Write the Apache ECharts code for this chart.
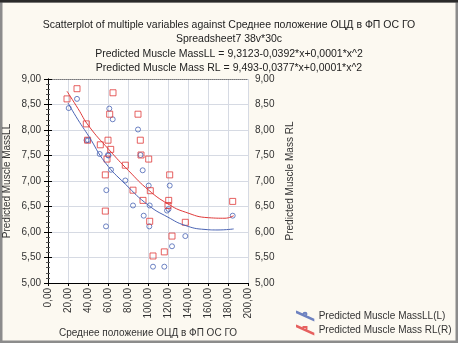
<!DOCTYPE html>
<html>
<head>
<meta charset="utf-8">
<script src="https://cdn.jsdelivr.net/npm/echarts@6/dist/echarts.min.js"></script>
<style>
  html, body { margin: 0; padding: 0; background: #fcf9f1; }
  #main { width: 458px; height: 343px; }
</style>
</head>
<body>
<div id="main"></div>
<script>
// observed points, [x, y]
var massLL = [
  [20.7, 8.43], [29, 8.61], [38.5, 7.80], [40, 7.80], [51.7, 7.53], [58.3, 6.82],
  [58, 6.11], [60, 7.51], [60.5, 7.50], [61.3, 8.42], [63, 7.22], [64.7, 8.21],
  [77.3, 7.01], [85, 6.52], [90, 8.01], [92.5, 7.51], [94.7, 7.21], [95.7, 6.32],
  [100.7, 6.91], [101.7, 6.52], [101.3, 6.11], [105, 5.32], [116.3, 5.32], [119, 6.42],
  [120.5, 6.45], [121.7, 6.91], [124, 5.72], [137.3, 5.92], [184.7, 6.32]
];
var massRL = [
  [19, 8.61], [29, 8.81], [38.3, 8.12], [39.6, 7.80], [52.3, 7.71], [57.3, 7.12],
  [57.3, 6.41], [59, 7.43], [60, 7.80], [61.7, 8.31], [62.7, 7.62], [65, 8.73],
  [77.3, 7.31], [85, 6.82], [90, 8.31], [92.3, 7.80], [93, 7.51], [95, 6.62],
  [100.7, 7.43], [102.3, 6.81], [101.7, 6.21], [105, 5.53], [116.3, 5.61], [120, 6.52],
  [120.7, 6.62], [121.7, 7.12], [124, 5.92], [137.3, 6.19], [184.7, 6.60]
];
// fitted curves
var fitLL = [
  [20, 8.53], [30, 8.2], [40.7, 7.88], [57.3, 7.36], [77.3, 6.94], [100.7, 6.52],
  [120, 6.29], [137, 6.13], [157, 6.05], [170, 6.04], [185.7, 6.06]
];
var fitRL = [
  [19, 8.76], [30, 8.42], [40.7, 8.08], [60.7, 7.62], [80.7, 7.2], [100.7, 6.82],
  [120, 6.55], [137.3, 6.39], [160.7, 6.28], [177, 6.27], [185.7, 6.32]
];
var nameLL = 'Predicted Muscle MassLL(L)';
var nameRL = 'Predicted Muscle Mass RL(R)';
var blue = '#4a64b4';
var red = '#e03a3a';

function comma(v) {
  return v.toFixed(2).replace('.', ',');
}

var myChart = echarts.init(document.getElementById('main'));

var yBase = {
  type: 'value',
  min: 5,
  max: 9,
  interval: 0.5,
  nameLocation: 'middle',
  nameGap: 36,
  nameTextStyle: { fontFamily: 'Liberation Sans', fontSize: 10, color: '#333' },
  axisLine: { show: true, lineStyle: { color: '#000', width: 1 } },
  axisTick: { show: true, length: 4, lineStyle: { color: '#000' } },
  minorTick: { show: true, splitNumber: 5, length: 2, lineStyle: { color: '#555' } },
  axisLabel: {
    fontFamily: 'Liberation Sans', fontSize: 10, color: '#333', margin: 7,
    formatter: comma
  }
};

var option = {
  backgroundColor: '#fcf9f1',
  animation: false,
  title: {
    text: 'Scatterplot of multiple variables against Среднее положение ОЦД в ФП ОС ГО\n' +
      'Spreadsheet7 38v*30c\n' +
      'Predicted Muscle MassLL = 9,3123-0,0392*x+0,0001*x^2\n' +
      'Predicted Muscle Mass RL = 9,493-0,0377*x+0,0001*x^2',
    left: 'center',
    top: 13,
    textStyle: {
      fontFamily: 'Liberation Sans', fontSize: 10.5, fontWeight: 'normal',
      color: '#222', lineHeight: 14.3,
      align: 'center'
    }
  },
  legend: {
    orient: 'vertical',
    left: 296,
    top: 311,
    padding: 0,
    itemWidth: 17,
    itemHeight: 8,
    itemGap: 4,
    textStyle: { fontFamily: 'Liberation Sans', fontSize: 10, color: '#333' },
    data: [
      { name: nameLL, icon: 'path://M0,0 L20,9 L20,9.8 L0,0.8 Z M8,2.6 a1.8,1.8 0 1,0 3.6,0 a1.8,1.8 0 1,0 -3.6,0 Z' },
      { name: nameRL, icon: 'path://M0,0 L20,9 L20,9.8 L0,0.8 Z M8,1.2 L11.6,1.2 L11.6,4.8 L8,4.8 Z' }
    ]
  },
  grid: {
    left: 48,
    right: 210,
    top: 79,
    bottom: 59,
    show: true,
    backgroundColor: '#ffffff',
    borderWidth: 0
  },
  graphic: [
    {
      type: 'rect',
      shape: { x: 0, y: 0, width: 458, height: 343 },
      style: { fill: 'none', stroke: '#8c8c8c', lineWidth: 5 },
      silent: true
    },
    {
      type: 'line',
      shape: { x1: 0, y1: 1, x2: 458, y2: 1 },
      style: { stroke: '#2a2a2a', lineWidth: 3 },
      silent: true
    }
  ],
  xAxis: [
    {
      type: 'value',
      min: 0,
      max: 200,
      interval: 20,
      name: 'Среднее положение ОЦД в ФП ОС ГО',
      nameLocation: 'middle',
      nameGap: 45,
      nameTextStyle: { fontFamily: 'Liberation Sans', fontSize: 10, color: '#333' },
      axisLine: { show: true, onZero: false, lineStyle: { color: '#000', width: 1 } },
      axisTick: { show: true, length: 3, lineStyle: { color: '#000' } },
      axisLabel: {
        rotate: 90, fontFamily: 'Liberation Sans', fontSize: 10, color: '#333', margin: 5,
        formatter: comma
      },
      splitLine: { show: true, lineStyle: { color: '#d6dae3', width: 1 } }
    },
    {
      type: 'value',
      position: 'top',
      min: 0,
      max: 200,
      interval: 20,
      axisLine: { show: true, onZero: false, lineStyle: { color: '#777', width: 1, type: 'dotted' } },
      axisTick: { show: false },
      axisLabel: { show: false },
      splitLine: { show: false }
    }
  ],
  yAxis: [
    Object.assign({}, yBase, {
      position: 'left',
      name: 'Predicted Muscle MassLL',
      splitLine: { show: true, lineStyle: { color: '#d6dae3', width: 1 } }
    }),
    Object.assign({}, yBase, {
      position: 'right',
      name: 'Predicted Muscle Mass RL',
      nameGap: 37,
      splitLine: { show: false }
    })
  ],
  series: [
    {
      name: nameLL,
      type: 'scatter',
      yAxisIndex: 0,
      symbol: 'circle',
      symbolSize: 5,
      itemStyle: { color: 'transparent', borderColor: blue, borderWidth: 1 },
      data: massLL
    },
    {
      name: nameRL,
      type: 'scatter',
      yAxisIndex: 1,
      symbol: 'rect',
      symbolSize: 6,
      itemStyle: { color: 'transparent', borderColor: red, borderWidth: 1 },
      data: massRL
    },
    {
      name: nameLL,
      type: 'line',
      yAxisIndex: 0,
      smooth: true,
      showSymbol: false,
      lineStyle: { color: blue, width: 1 },
      itemStyle: { color: blue },
      data: fitLL
    },
    {
      name: nameRL,
      type: 'line',
      yAxisIndex: 1,
      smooth: true,
      showSymbol: false,
      lineStyle: { color: red, width: 1 },
      itemStyle: { color: red },
      data: fitRL
    }
  ]
};

myChart.setOption(option);
</script>
</body>
</html>
